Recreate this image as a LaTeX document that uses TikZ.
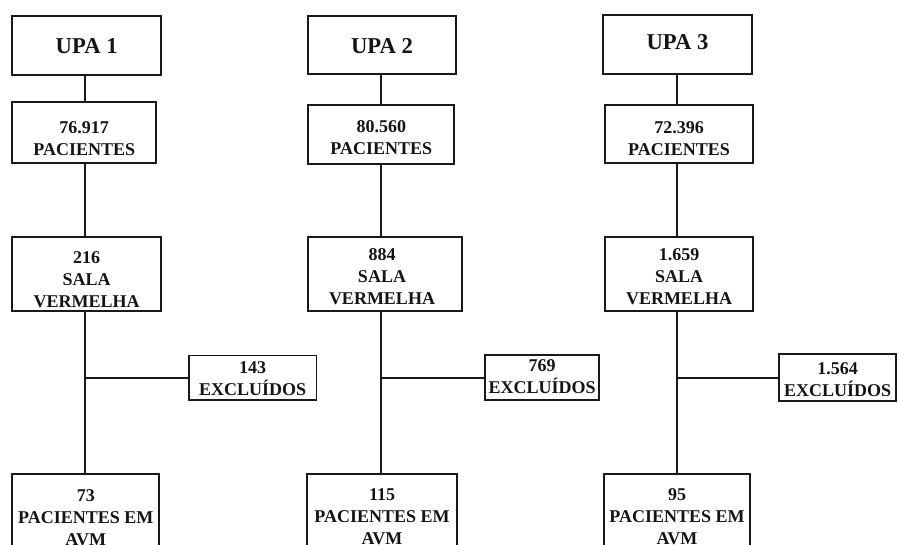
\documentclass[tikz,border=0pt]{standalone}
\usepackage{fontspec}
\setmainfont{Liberation Serif}[BoldFont={Liberation Serif Bold}]
\usetikzlibrary{fit}
\begin{document}
\begin{tikzpicture}[x=0.75pt,y=-0.75pt,
  box/.style={draw=black!90, line width=1.4pt, inner sep=0pt, rectangle},
  txt/.style={inner sep=0pt, align=center, text=black!92, font=\fontsize{13.5}{16.5}\selectfont\bfseries},
  ttl/.style={inner sep=0pt, align=center, text=black!92, font=\fontsize{17}{19}\selectfont\bfseries},
  conn/.style={draw=black!90, line width=1.4pt}]
\useasboundingbox (0,0) rectangle (898,544);
\clip (0,0) rectangle (898,544);
% axes
\coordinate (ax1) at (85.3,0);
\coordinate (ax2) at (381.3,0);
\coordinate (ax3) at (677.3,0);
\coordinate (j1) at (85.3,378);
\coordinate (j2) at (381.3,378);
\coordinate (j3) at (677.3,378);
% column 1
\node[box, fit={(12.3,16) (161,75)}] (u1) {};
\node[box, fit={(12.3,102.3) (156,163.3)}] (p1) {};
\node[box, fit={(12.3,237) (161,311.3)}] (s1) {};
\node[box, fit={(189,355.5) (316.5,400)}] (e1) {};
\node[box, fit={(12.3,473.7) (159.3,600)}] (a1) {};
\node[ttl, anchor=base] (tu1) at (86.7,53.3) {UPA 1};
\node[txt, anchor=base] (tp1) at (84.2,155) {76.917\\PACIENTES};
\node[txt, anchor=base] (ts1) at (86.7,307) {216\\SALA\\VERMELHA};
\node[txt, anchor=base] (te1) at (252.7,395.3) {143\\EXCLUÍDOS};
\node[txt, anchor=base] (ta1) at (85.8,545.7) {73\\PACIENTES EM\\AVM};
% column 2
\node[box, fit={(308.3,16) (455.7,74)}] (u2) {};
\node[box, fit={(308.3,105.3) (454.3,164.3)}] (p2) {};
\node[box, fit={(308.3,237) (461.7,311.3)}] (s2) {};
\node[box, fit={(485,354.7) (599.3,400)}] (e2) {};
\node[box, fit={(307.3,473.7) (456.7,600)}] (a2) {};
\node[ttl, anchor=base] (tu2) at (382,53.8) {UPA 2};
\node[txt, anchor=base] (tp2) at (381.3,154) {80.560\\PACIENTES};
\node[txt, anchor=base] (ts2) at (382,304.3) {884\\SALA\\VERMELHA};
\node[txt, anchor=base] (te2) at (542.2,393.7) {769\\EXCLUÍDOS};
\node[txt, anchor=base] (ta2) at (382,544) {115\\PACIENTES EM\\AVM};
% column 3
\node[box, fit={(603,15) (752,74)}] (u3) {};
\node[box, fit={(605,105.3) (753.3,163.3)}] (p3) {};
\node[box, fit={(605,237.3) (753.3,311.3)}] (s3) {};
\node[box, fit={(779.3,354) (895.7,401)}] (e3) {};
\node[box, fit={(604,473.7) (750.3,600)}] (a3) {};
\node[ttl, anchor=base] (tu3) at (677.5,49.5) {UPA 3};
\node[txt, anchor=base] (tp3) at (679,155.3) {72.396\\PACIENTES};
\node[txt, anchor=base] (ts3) at (679,304.3) {1.659\\SALA\\VERMELHA};
\node[txt, anchor=base] (te3) at (837.5,396) {1.564\\EXCLUÍDOS};
\node[txt, anchor=base] (ta3) at (677,544) {95\\PACIENTES EM\\AVM};
% connectors
\foreach \i in {1,2,3}{
  \draw[conn] (u\i.south -| ax\i) -- (p\i.north -| ax\i);
  \draw[conn] (p\i.south -| ax\i) -- (s\i.north -| ax\i);
  \draw[conn] (s\i.south -| ax\i) -- (a\i.north -| ax\i);
  \draw[conn] (j\i) -- (e\i.west |- j\i);
}
\end{tikzpicture}
\end{document}
